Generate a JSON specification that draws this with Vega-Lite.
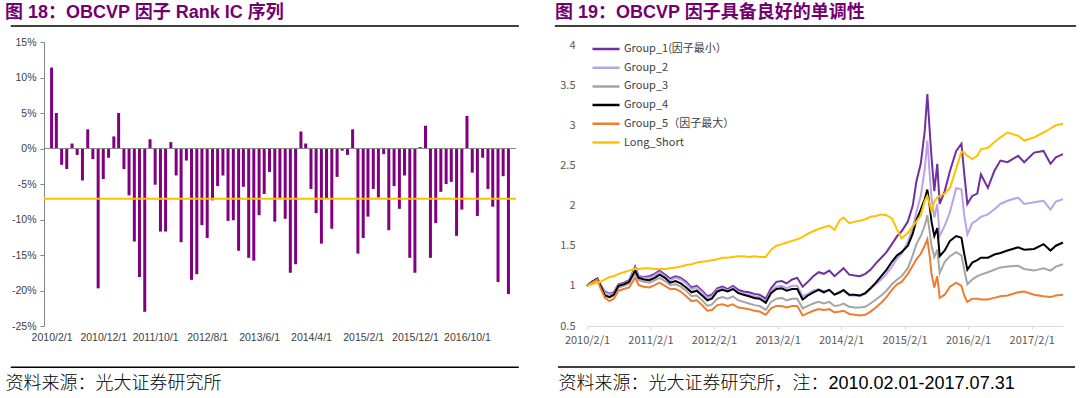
{
  "$schema": "https://vega.github.io/schema/vega-lite/v6.json",
  "background": "white",
  "padding": {"left": 5, "top": 4, "right": 0, "bottom": 0},
  "spacing": 34,
  "config": {"view": {"stroke": null}, "font": "Liberation Sans", "axis": {"labelOverlap": false}, "axisY": {"labelOverlap": false}},
  "resolve": {"scale": {"x": "independent", "y": "independent", "color": "independent"}, "legend": {"color": "independent"}},
  "hconcat": [
    {
      "width": 472,
      "height": 284,
      "title": {"text": "图 18：OBCVP 因子 Rank IC 序列", "anchor": "start", "frame": "group", "dx": -39, "offset": 3, "font": "Liberation Sans, Noto Sans CJK SC", "fontSize": 18, "fontWeight": "bold", "color": "#74006F"},
      "data": {"values": [
        {"month": "2010/02/01", "ic": 11.4}, {"month": "2010/03/01", "ic": 5.0}, {"month": "2010/04/01", "ic": -2.3}, {"month": "2010/05/01", "ic": -2.9}, {"month": "2010/06/01", "ic": 0.7}, {"month": "2010/07/01", "ic": -0.9}, {"month": "2010/08/01", "ic": -4.5}, {"month": "2010/09/01", "ic": 2.7}, {"month": "2010/10/01", "ic": -1.5}, {"month": "2010/11/01", "ic": -19.7}, {"month": "2010/12/01", "ic": -4.3},
        {"month": "2011/01/01", "ic": -1.3}, {"month": "2011/02/01", "ic": 1.7}, {"month": "2011/03/01", "ic": 5.0}, {"month": "2011/04/01", "ic": -2.9}, {"month": "2011/05/01", "ic": -6.6}, {"month": "2011/06/01", "ic": -13.1}, {"month": "2011/07/01", "ic": -18.1}, {"month": "2011/08/01", "ic": -23.0}, {"month": "2011/09/01", "ic": 1.3}, {"month": "2011/10/01", "ic": -5.1}, {"month": "2011/11/01", "ic": -11.7}, {"month": "2011/12/01", "ic": -11.7},
        {"month": "2012/01/01", "ic": 0.9}, {"month": "2012/02/01", "ic": -3.8}, {"month": "2012/03/01", "ic": -13.2}, {"month": "2012/04/01", "ic": -1.7}, {"month": "2012/05/01", "ic": -18.5}, {"month": "2012/06/01", "ic": -17.7}, {"month": "2012/07/01", "ic": -10.8}, {"month": "2012/08/01", "ic": -12.6}, {"month": "2012/09/01", "ic": -7.3}, {"month": "2012/10/01", "ic": -5.3}, {"month": "2012/11/01", "ic": -3.8}, {"month": "2012/12/01", "ic": -10.2},
        {"month": "2013/01/01", "ic": -10.1}, {"month": "2013/02/01", "ic": -14.4}, {"month": "2013/03/01", "ic": -5.4}, {"month": "2013/04/01", "ic": -15.4}, {"month": "2013/05/01", "ic": -15.8}, {"month": "2013/06/01", "ic": -9.4}, {"month": "2013/07/01", "ic": -6.4}, {"month": "2013/08/01", "ic": -3.3}, {"month": "2013/09/01", "ic": -10.3}, {"month": "2013/10/01", "ic": -7.0}, {"month": "2013/11/01", "ic": -9.9}, {"month": "2013/12/01", "ic": -17.5},
        {"month": "2014/01/01", "ic": -16.3}, {"month": "2014/02/01", "ic": 2.4}, {"month": "2014/03/01", "ic": 0.7}, {"month": "2014/04/01", "ic": -5.7}, {"month": "2014/05/01", "ic": -9.1}, {"month": "2014/06/01", "ic": -13.4}, {"month": "2014/07/01", "ic": -7.0}, {"month": "2014/08/01", "ic": -11.3}, {"month": "2014/09/01", "ic": -4.0}, {"month": "2014/10/01", "ic": -0.3}, {"month": "2014/11/01", "ic": -0.9}, {"month": "2014/12/01", "ic": 2.7},
        {"month": "2015/01/01", "ic": -14.8}, {"month": "2015/02/01", "ic": -12.6}, {"month": "2015/03/01", "ic": -9.6}, {"month": "2015/04/01", "ic": -5.7}, {"month": "2015/05/01", "ic": -6.9}, {"month": "2015/06/01", "ic": -0.8}, {"month": "2015/07/01", "ic": -11.5}, {"month": "2015/08/01", "ic": -5.3}, {"month": "2015/09/01", "ic": -8.5}, {"month": "2015/10/01", "ic": -3.8}, {"month": "2015/11/01", "ic": -15.4}, {"month": "2015/12/01", "ic": -17.5},
        {"month": "2016/01/01", "ic": 0.2}, {"month": "2016/02/01", "ic": 3.2}, {"month": "2016/03/01", "ic": -15.4}, {"month": "2016/04/01", "ic": -10.5}, {"month": "2016/05/01", "ic": -6.1}, {"month": "2016/06/01", "ic": -5.0}, {"month": "2016/07/01", "ic": -4.7}, {"month": "2016/08/01", "ic": -12.3}, {"month": "2016/09/01", "ic": -8.6}, {"month": "2016/10/01", "ic": 4.6}, {"month": "2016/11/01", "ic": -3.4}, {"month": "2016/12/01", "ic": -9.5},
        {"month": "2017/01/01", "ic": -1.3}, {"month": "2017/02/01", "ic": -5.7}, {"month": "2017/03/01", "ic": -8.2}, {"month": "2017/04/01", "ic": -18.8}, {"month": "2017/05/01", "ic": -3.9}, {"month": "2017/06/01", "ic": -20.5}
      ]},
      "layer": [
        {
          "mark": {"type": "bar", "size": 3, "color": "#800080"},
          "encoding": {
            "x": {"field": "month", "type": "temporal",
              "scale": {"domain": [{"year": 2010, "month": 1, "date": 17}, {"year": 2017, "month": 6, "date": 16}]},
              "axis": {
                "values": [{"year": 2010, "month": 2, "date": 1}, {"year": 2010, "month": 12, "date": 1}, {"year": 2011, "month": 10, "date": 1}, {"year": 2012, "month": 8, "date": 1}, {"year": 2013, "month": 6, "date": 1}, {"year": 2014, "month": 4, "date": 1}, {"year": 2015, "month": 2, "date": 1}, {"year": 2015, "month": 12, "date": 1}, {"year": 2016, "month": 10, "date": 1}],
                "format": "%Y/%-m/%-d", "domain": false, "ticks": false, "grid": false,
                "labelFont": "Liberation Sans", "labelFontSize": 10.5, "labelColor": "#404040", "labelPadding": 6, "labelOverlap": false, "labelFlush": false,
                "title": "资料来源：光大证券研究所", "titleFont": "Noto Sans CJK SC", "titleFontSize": 18, "titleFontWeight": 300, "titleColor": "#000000",
                "titleAnchor": "start", "titleAlign": "left", "titleBaseline": "middle", "titleX": -39, "titleY": 57
              }},
            "y": {"field": "ic", "type": "quantitative",
              "scale": {"domain": [-25, 15], "nice": false},
              "axis": {"tickCount": 8, "labelExpr": "datum.value + '%'", "labelOverlap": false, "domain": true, "domainColor": "#868686", "ticks": true, "tickColor": "#868686", "tickSize": 4, "grid": false, "labelFont": "Liberation Sans", "labelFontSize": 10.5, "labelColor": "#404040", "labelPadding": 4, "title": null}}
          }
        },
        {"data": {"values": [{"line": "zero"}]}, "mark": {"type": "rule", "color": "#868686", "strokeWidth": 1},
          "encoding": {"y": {"datum": 0, "type": "quantitative",
            "axis": {"tickCount": 8, "labelExpr": "datum.value + '%'", "labelOverlap": false, "domain": true, "domainColor": "#868686", "ticks": true, "tickColor": "#868686", "tickSize": 4, "grid": false, "labelFont": "Liberation Sans", "labelFontSize": 10.5, "labelColor": "#404040", "labelPadding": 4, "title": null}}}},
        {"mark": {"type": "rule", "color": "#FFC000", "strokeWidth": 2},
          "encoding": {"y": {"aggregate": "mean", "field": "ic", "type": "quantitative",
            "axis": {"tickCount": 8, "labelExpr": "datum.value + '%'", "labelOverlap": false, "domain": true, "domainColor": "#868686", "ticks": true, "tickColor": "#868686", "tickSize": 4, "grid": false, "labelFont": "Liberation Sans", "labelFontSize": 10.5, "labelColor": "#404040", "labelPadding": 4, "title": null}}}},
        {"data": {"values": [{"line": "left-top"}]}, "mark": {"type": "rule", "color": "#000000", "strokeWidth": 1.5},
          "encoding": {"x": {"datum": {"year": 2009, "month": 6, "date": 7}, "type": "temporal"}, "x2": {"datum": {"year": 2017, "month": 8, "date": 1}},
            "y": {"datum": 17.25, "type": "quantitative",
              "axis": {"tickCount": 8, "labelExpr": "datum.value + '%'", "labelOverlap": false, "domain": true, "domainColor": "#868686", "ticks": true, "tickColor": "#868686", "tickSize": 4, "grid": false, "labelFont": "Liberation Sans", "labelFontSize": 10.5, "labelColor": "#404040", "labelPadding": 4, "title": null}}}},
        {"data": {"values": [{"line": "left-bottom"}]}, "mark": {"type": "rule", "color": "#000000", "strokeWidth": 1.5},
          "encoding": {"x": {"datum": {"year": 2009, "month": 6, "date": 7}, "type": "temporal"}, "x2": {"datum": {"year": 2017, "month": 8, "date": 1}},
            "y": {"datum": -30.8, "type": "quantitative",
              "axis": {"tickCount": 8, "labelExpr": "datum.value + '%'", "labelOverlap": false, "domain": true, "domainColor": "#868686", "ticks": true, "tickColor": "#868686", "tickSize": 4, "grid": false, "labelFont": "Liberation Sans", "labelFontSize": 10.5, "labelColor": "#404040", "labelPadding": 4, "title": null}}}}
      ]
    },
    {
      "width": 476,
      "height": 284,
      "title": {"text": "图 19：OBCVP 因子具备良好的单调性", "anchor": "start", "frame": "group", "dx": -32, "offset": 3, "font": "Liberation Sans, Noto Sans CJK SC", "fontSize": 18, "fontWeight": "bold", "color": "#74006F"},
      "data": {"values": [
        {"date": "2010/02/01", "Group_1": 1.00, "Group_2": 1.00, "Group_3": 1.00, "Group_4": 1.00, "Group_5": 1.00, "Long_Short": 1.00},
        {"date": "2010/03/01", "Group_1": 1.04, "Group_2": 1.04, "Group_3": 1.04, "Group_4": 1.05, "Group_5": 1.04, "Long_Short": 1.02},
        {"date": "2010/04/01", "Group_1": 1.09, "Group_2": 1.08, "Group_3": 1.08, "Group_4": 1.09, "Group_5": 1.08, "Long_Short": 1.04},
        {"date": "2010/04/20", "Group_1": 1.01, "Group_2": 1.00, "Group_3": 0.99, "Group_4": 1.00, "Group_5": 0.97, "Long_Short": 1.05},
        {"date": "2010/05/15", "Group_1": 0.93, "Group_2": 0.92, "Group_3": 0.89, "Group_4": 0.88, "Group_5": 0.85, "Long_Short": 1.08},
        {"date": "2010/06/10", "Group_1": 0.90, "Group_2": 0.89, "Group_3": 0.86, "Group_4": 0.86, "Group_5": 0.81, "Long_Short": 1.11},
        {"date": "2010/07/05", "Group_1": 0.92, "Group_2": 0.91, "Group_3": 0.88, "Group_4": 0.89, "Group_5": 0.84, "Long_Short": 1.12},
        {"date": "2010/08/01", "Group_1": 1.02, "Group_2": 1.01, "Group_3": 0.98, "Group_4": 1.00, "Group_5": 0.94, "Long_Short": 1.15},
        {"date": "2010/09/01", "Group_1": 1.04, "Group_2": 1.03, "Group_3": 1.00, "Group_4": 1.02, "Group_5": 0.96, "Long_Short": 1.17},
        {"date": "2010/10/01", "Group_1": 1.07, "Group_2": 1.06, "Group_3": 1.03, "Group_4": 1.05, "Group_5": 0.98, "Long_Short": 1.19},
        {"date": "2010/11/05", "Group_1": 1.24, "Group_2": 1.22, "Group_3": 1.16, "Group_4": 1.19, "Group_5": 1.10, "Long_Short": 1.21},
        {"date": "2010/11/25", "Group_1": 1.12, "Group_2": 1.11, "Group_3": 1.07, "Group_4": 1.10, "Group_5": 1.01, "Long_Short": 1.21},
        {"date": "2010/12/25", "Group_1": 1.11, "Group_2": 1.10, "Group_3": 1.05, "Group_4": 1.08, "Group_5": 0.99, "Long_Short": 1.22},
        {"date": "2011/01/25", "Group_1": 1.12, "Group_2": 1.10, "Group_3": 1.04, "Group_4": 1.07, "Group_5": 0.98, "Long_Short": 1.22},
        {"date": "2011/02/25", "Group_1": 1.15, "Group_2": 1.13, "Group_3": 1.07, "Group_4": 1.10, "Group_5": 1.01, "Long_Short": 1.21},
        {"date": "2011/03/25", "Group_1": 1.19, "Group_2": 1.17, "Group_3": 1.10, "Group_4": 1.14, "Group_5": 1.04, "Long_Short": 1.21},
        {"date": "2011/04/25", "Group_1": 1.14, "Group_2": 1.12, "Group_3": 1.06, "Group_4": 1.10, "Group_5": 1.00, "Long_Short": 1.21},
        {"date": "2011/05/25", "Group_1": 1.09, "Group_2": 1.07, "Group_3": 1.01, "Group_4": 1.04, "Group_5": 0.96, "Long_Short": 1.22},
        {"date": "2011/06/25", "Group_1": 1.12, "Group_2": 1.10, "Group_3": 1.02, "Group_4": 1.06, "Group_5": 0.96, "Long_Short": 1.23},
        {"date": "2011/07/25", "Group_1": 1.10, "Group_2": 1.08, "Group_3": 0.99, "Group_4": 1.03, "Group_5": 0.93, "Long_Short": 1.24},
        {"date": "2011/08/25", "Group_1": 1.05, "Group_2": 1.03, "Group_3": 0.94, "Group_4": 0.98, "Group_5": 0.87, "Long_Short": 1.26},
        {"date": "2011/09/25", "Group_1": 0.98, "Group_2": 0.96, "Group_3": 0.87, "Group_4": 0.92, "Group_5": 0.81, "Long_Short": 1.27},
        {"date": "2011/10/25", "Group_1": 1.00, "Group_2": 0.98, "Group_3": 0.88, "Group_4": 0.94, "Group_5": 0.82, "Long_Short": 1.29},
        {"date": "2011/11/25", "Group_1": 0.94, "Group_2": 0.92, "Group_3": 0.82, "Group_4": 0.88, "Group_5": 0.76, "Long_Short": 1.30},
        {"date": "2011/12/25", "Group_1": 0.87, "Group_2": 0.85, "Group_3": 0.75, "Group_4": 0.82, "Group_5": 0.69, "Long_Short": 1.31},
        {"date": "2012/01/20", "Group_1": 0.89, "Group_2": 0.87, "Group_3": 0.77, "Group_4": 0.84, "Group_5": 0.70, "Long_Short": 1.32},
        {"date": "2012/02/20", "Group_1": 0.97, "Group_2": 0.95, "Group_3": 0.84, "Group_4": 0.93, "Group_5": 0.76, "Long_Short": 1.33},
        {"date": "2012/03/20", "Group_1": 0.99, "Group_2": 0.97, "Group_3": 0.86, "Group_4": 0.95, "Group_5": 0.77, "Long_Short": 1.35},
        {"date": "2012/04/20", "Group_1": 0.96, "Group_2": 0.94, "Group_3": 0.84, "Group_4": 0.93, "Group_5": 0.75, "Long_Short": 1.35},
        {"date": "2012/05/20", "Group_1": 1.00, "Group_2": 0.98, "Group_3": 0.87, "Group_4": 0.96, "Group_5": 0.77, "Long_Short": 1.36},
        {"date": "2012/06/20", "Group_1": 0.95, "Group_2": 0.92, "Group_3": 0.82, "Group_4": 0.91, "Group_5": 0.73, "Long_Short": 1.37},
        {"date": "2012/07/20", "Group_1": 0.93, "Group_2": 0.90, "Group_3": 0.80, "Group_4": 0.89, "Group_5": 0.72, "Long_Short": 1.37},
        {"date": "2012/08/20", "Group_1": 0.92, "Group_2": 0.89, "Group_3": 0.78, "Group_4": 0.87, "Group_5": 0.71, "Long_Short": 1.36},
        {"date": "2012/09/20", "Group_1": 0.90, "Group_2": 0.87, "Group_3": 0.76, "Group_4": 0.85, "Group_5": 0.69, "Long_Short": 1.37},
        {"date": "2012/10/20", "Group_1": 0.89, "Group_2": 0.86, "Group_3": 0.75, "Group_4": 0.84, "Group_5": 0.68, "Long_Short": 1.36},
        {"date": "2012/11/25", "Group_1": 0.84, "Group_2": 0.81, "Group_3": 0.70, "Group_4": 0.79, "Group_5": 0.64, "Long_Short": 1.36},
        {"date": "2012/12/25", "Group_1": 0.97, "Group_2": 0.93, "Group_3": 0.80, "Group_4": 0.91, "Group_5": 0.72, "Long_Short": 1.45},
        {"date": "2013/01/25", "Group_1": 1.05, "Group_2": 0.99, "Group_3": 0.84, "Group_4": 0.96, "Group_5": 0.75, "Long_Short": 1.50},
        {"date": "2013/02/25", "Group_1": 1.06, "Group_2": 1.00, "Group_3": 0.85, "Group_4": 0.97, "Group_5": 0.75, "Long_Short": 1.52},
        {"date": "2013/03/25", "Group_1": 1.03, "Group_2": 0.97, "Group_3": 0.82, "Group_4": 0.94, "Group_5": 0.73, "Long_Short": 1.54},
        {"date": "2013/04/25", "Group_1": 1.08, "Group_2": 1.00, "Group_3": 0.84, "Group_4": 0.96, "Group_5": 0.75, "Long_Short": 1.56},
        {"date": "2013/05/25", "Group_1": 1.10, "Group_2": 1.00, "Group_3": 0.84, "Group_4": 0.96, "Group_5": 0.75, "Long_Short": 1.58},
        {"date": "2013/06/25", "Group_1": 0.99, "Group_2": 0.87, "Group_3": 0.72, "Group_4": 0.83, "Group_5": 0.63, "Long_Short": 1.61},
        {"date": "2013/07/25", "Group_1": 1.05, "Group_2": 0.90, "Group_3": 0.75, "Group_4": 0.88, "Group_5": 0.66, "Long_Short": 1.65},
        {"date": "2013/08/25", "Group_1": 1.12, "Group_2": 0.94, "Group_3": 0.78, "Group_4": 0.92, "Group_5": 0.69, "Long_Short": 1.68},
        {"date": "2013/09/25", "Group_1": 1.17, "Group_2": 0.96, "Group_3": 0.80, "Group_4": 0.95, "Group_5": 0.71, "Long_Short": 1.71},
        {"date": "2013/10/25", "Group_1": 1.15, "Group_2": 0.93, "Group_3": 0.78, "Group_4": 0.92, "Group_5": 0.70, "Long_Short": 1.73},
        {"date": "2013/11/25", "Group_1": 1.19, "Group_2": 0.95, "Group_3": 0.80, "Group_4": 0.95, "Group_5": 0.71, "Long_Short": 1.75},
        {"date": "2013/12/25", "Group_1": 1.12, "Group_2": 0.89, "Group_3": 0.75, "Group_4": 0.89, "Group_5": 0.67, "Long_Short": 1.70},
        {"date": "2014/01/25", "Group_1": 1.18, "Group_2": 0.92, "Group_3": 0.76, "Group_4": 0.92, "Group_5": 0.68, "Long_Short": 1.82},
        {"date": "2014/02/15", "Group_1": 1.22, "Group_2": 0.94, "Group_3": 0.78, "Group_4": 0.95, "Group_5": 0.69, "Long_Short": 1.85},
        {"date": "2014/03/20", "Group_1": 1.14, "Group_2": 0.88, "Group_3": 0.74, "Group_4": 0.89, "Group_5": 0.65, "Long_Short": 1.78},
        {"date": "2014/04/20", "Group_1": 1.13, "Group_2": 0.88, "Group_3": 0.73, "Group_4": 0.89, "Group_5": 0.64, "Long_Short": 1.80},
        {"date": "2014/05/20", "Group_1": 1.12, "Group_2": 0.87, "Group_3": 0.73, "Group_4": 0.88, "Group_5": 0.63, "Long_Short": 1.81},
        {"date": "2014/06/20", "Group_1": 1.15, "Group_2": 0.90, "Group_3": 0.74, "Group_4": 0.91, "Group_5": 0.64, "Long_Short": 1.83},
        {"date": "2014/07/20", "Group_1": 1.20, "Group_2": 0.96, "Group_3": 0.78, "Group_4": 0.97, "Group_5": 0.68, "Long_Short": 1.86},
        {"date": "2014/08/20", "Group_1": 1.28, "Group_2": 1.02, "Group_3": 0.83, "Group_4": 1.04, "Group_5": 0.73, "Long_Short": 1.87},
        {"date": "2014/09/20", "Group_1": 1.35, "Group_2": 1.08, "Group_3": 0.88, "Group_4": 1.12, "Group_5": 0.79, "Long_Short": 1.89},
        {"date": "2014/10/20", "Group_1": 1.42, "Group_2": 1.15, "Group_3": 0.94, "Group_4": 1.20, "Group_5": 0.86, "Long_Short": 1.88},
        {"date": "2014/11/20", "Group_1": 1.52, "Group_2": 1.24, "Group_3": 1.02, "Group_4": 1.30, "Group_5": 0.95, "Long_Short": 1.84},
        {"date": "2014/12/20", "Group_1": 1.62, "Group_2": 1.34, "Group_3": 1.08, "Group_4": 1.38, "Group_5": 1.02, "Long_Short": 1.70},
        {"date": "2015/01/15", "Group_1": 1.68, "Group_2": 1.40, "Group_3": 1.12, "Group_4": 1.42, "Group_5": 1.05, "Long_Short": 1.59},
        {"date": "2015/02/20", "Group_1": 1.80, "Group_2": 1.55, "Group_3": 1.22, "Group_4": 1.50, "Group_5": 1.15, "Long_Short": 1.66},
        {"date": "2015/03/20", "Group_1": 2.00, "Group_2": 1.72, "Group_3": 1.38, "Group_4": 1.65, "Group_5": 1.25, "Long_Short": 1.74},
        {"date": "2015/04/10", "Group_1": 2.30, "Group_2": 1.92, "Group_3": 1.52, "Group_4": 1.82, "Group_5": 1.33, "Long_Short": 1.80},
        {"date": "2015/05/05", "Group_1": 2.52, "Group_2": 2.12, "Group_3": 1.62, "Group_4": 1.95, "Group_5": 1.40, "Long_Short": 1.88},
        {"date": "2015/05/28", "Group_1": 2.93, "Group_2": 2.45, "Group_3": 1.75, "Group_4": 2.08, "Group_5": 1.50, "Long_Short": 2.06},
        {"date": "2015/06/12", "Group_1": 3.39, "Group_2": 2.81, "Group_3": 1.88, "Group_4": 2.20, "Group_5": 1.58, "Long_Short": 2.12},
        {"date": "2015/06/25", "Group_1": 2.95, "Group_2": 2.40, "Group_3": 1.68, "Group_4": 2.00, "Group_5": 1.38, "Long_Short": 2.02},
        {"date": "2015/07/06", "Group_1": 2.60, "Group_2": 2.10, "Group_3": 1.50, "Group_4": 1.80, "Group_5": 1.15, "Long_Short": 1.93},
        {"date": "2015/07/22", "Group_1": 2.18, "Group_2": 1.85, "Group_3": 1.36, "Group_4": 1.62, "Group_5": 0.98, "Long_Short": 2.05},
        {"date": "2015/08/08", "Group_1": 2.52, "Group_2": 2.02, "Group_3": 1.45, "Group_4": 1.72, "Group_5": 1.12, "Long_Short": 2.10},
        {"date": "2015/08/22", "Group_1": 2.02, "Group_2": 1.62, "Group_3": 1.16, "Group_4": 1.37, "Group_5": 0.85, "Long_Short": 2.12},
        {"date": "2015/09/20", "Group_1": 2.18, "Group_2": 1.75, "Group_3": 1.30, "Group_4": 1.44, "Group_5": 0.89, "Long_Short": 2.15},
        {"date": "2015/10/20", "Group_1": 2.43, "Group_2": 1.92, "Group_3": 1.37, "Group_4": 1.56, "Group_5": 0.99, "Long_Short": 2.22},
        {"date": "2015/11/25", "Group_1": 2.68, "Group_2": 2.22, "Group_3": 1.42, "Group_4": 1.62, "Group_5": 1.04, "Long_Short": 2.46},
        {"date": "2015/12/25", "Group_1": 2.77, "Group_2": 2.20, "Group_3": 1.38, "Group_4": 1.60, "Group_5": 1.00, "Long_Short": 2.67},
        {"date": "2016/01/10", "Group_1": 2.40, "Group_2": 1.88, "Group_3": 1.20, "Group_4": 1.40, "Group_5": 0.88, "Long_Short": 2.66},
        {"date": "2016/01/28", "Group_1": 2.02, "Group_2": 1.64, "Group_3": 1.02, "Group_4": 1.20, "Group_5": 0.80, "Long_Short": 2.62},
        {"date": "2016/02/25", "Group_1": 2.12, "Group_2": 1.78, "Group_3": 1.08, "Group_4": 1.29, "Group_5": 0.84, "Long_Short": 2.58},
        {"date": "2016/03/25", "Group_1": 2.15, "Group_2": 1.82, "Group_3": 1.12, "Group_4": 1.32, "Group_5": 0.84, "Long_Short": 2.62},
        {"date": "2016/04/15", "Group_1": 2.39, "Group_2": 1.86, "Group_3": 1.14, "Group_4": 1.35, "Group_5": 0.83, "Long_Short": 2.70},
        {"date": "2016/05/25", "Group_1": 2.22, "Group_2": 1.89, "Group_3": 1.17, "Group_4": 1.35, "Group_5": 0.83, "Long_Short": 2.72},
        {"date": "2016/07/01", "Group_1": 2.43, "Group_2": 1.95, "Group_3": 1.20, "Group_4": 1.39, "Group_5": 0.85, "Long_Short": 2.79},
        {"date": "2016/08/05", "Group_1": 2.56, "Group_2": 2.02, "Group_3": 1.23, "Group_4": 1.41, "Group_5": 0.87, "Long_Short": 2.85},
        {"date": "2016/09/15", "Group_1": 2.54, "Group_2": 2.06, "Group_3": 1.24, "Group_4": 1.44, "Group_5": 0.88, "Long_Short": 2.91},
        {"date": "2016/11/15", "Group_1": 2.62, "Group_2": 2.10, "Group_3": 1.25, "Group_4": 1.48, "Group_5": 0.92, "Long_Short": 2.87},
        {"date": "2016/12/20", "Group_1": 2.54, "Group_2": 2.02, "Group_3": 1.21, "Group_4": 1.45, "Group_5": 0.93, "Long_Short": 2.81},
        {"date": "2017/02/15", "Group_1": 2.66, "Group_2": 2.04, "Group_3": 1.19, "Group_4": 1.46, "Group_5": 0.89, "Long_Short": 2.85},
        {"date": "2017/04/10", "Group_1": 2.68, "Group_2": 2.06, "Group_3": 1.22, "Group_4": 1.52, "Group_5": 0.87, "Long_Short": 2.91},
        {"date": "2017/05/20", "Group_1": 2.52, "Group_2": 1.95, "Group_3": 1.19, "Group_4": 1.44, "Group_5": 0.86, "Long_Short": 2.96},
        {"date": "2017/06/20", "Group_1": 2.60, "Group_2": 2.05, "Group_3": 1.24, "Group_4": 1.50, "Group_5": 0.88, "Long_Short": 3.00},
        {"date": "2017/07/31", "Group_1": 2.64, "Group_2": 2.08, "Group_3": 1.27, "Group_4": 1.54, "Group_5": 0.89, "Long_Short": 3.02}
      ]},
      "layer": [
        {
          "transform": [{"fold": ["Group_1", "Group_2", "Group_3", "Group_4", "Group_5", "Long_Short"], "as": ["series", "value"]}],
          "mark": {"type": "line", "strokeWidth": 2},
          "encoding": {
            "x": {"field": "date", "type": "temporal",
              "scale": {"domain": [{"year": 2010, "month": 2, "date": 1}, {"year": 2017, "month": 7, "date": 31}]},
              "axis": {
                "values": [{"year": 2010, "month": 2, "date": 1}, {"year": 2011, "month": 2, "date": 1}, {"year": 2012, "month": 2, "date": 1}, {"year": 2013, "month": 2, "date": 1}, {"year": 2014, "month": 2, "date": 1}, {"year": 2015, "month": 2, "date": 1}, {"year": 2016, "month": 2, "date": 1}, {"year": 2017, "month": 2, "date": 1}],
                "format": "%Y/%-m/%-d", "domain": true, "domainColor": "#D9D9D9", "ticks": true, "tickColor": "#D9D9D9", "tickSize": 3, "grid": false,
                "labelFont": "Noto Sans CJK SC", "labelFontSize": 11, "labelColor": "#595959", "labelPadding": 5, "labelOverlap": false, "labelFlush": false,
                "title": "资料来源：光大证券研究所，注：2010.02.01-2017.07.31", "titleFont": "Liberation Sans, Noto Sans CJK SC", "titleFontSize": 18, "titleFontWeight": 300, "titleColor": "#000000",
                "titleAnchor": "start", "titleAlign": "left", "titleBaseline": "middle", "titleX": -29, "titleY": 57
              }},
            "y": {"field": "value", "type": "quantitative",
              "scale": {"domain": [0.5, 4.0374], "nice": false, "zero": false},
              "axis": {"values": [0.5, 1, 1.5, 2, 2.5, 3, 3.5, 4], "labelExpr": "datum.value + ''", "labelOverlap": false, "domain": false, "ticks": false, "grid": false, "labelFont": "Noto Sans CJK SC", "labelFontSize": 11, "labelColor": "#595959", "labelPadding": 12, "title": null}},
            "color": {"field": "series", "type": "nominal",
              "scale": {"domain": ["Group_1", "Group_2", "Group_3", "Group_4", "Group_5", "Long_Short"], "range": ["#7030A0", "#B9A3E6", "#A5A5A5", "#000000", "#ED7D31", "#FFC000"]},
              "legend": {"orient": "none", "legendX": 4, "legendY": 1, "title": null, "symbolType": "stroke", "symbolSize": 729, "symbolStrokeWidth": 2.5, "clipHeight": 12, "rowPadding": 6.7, "labelOffset": 3,
                "labelFont": "Noto Sans CJK SC", "labelFontSize": 11, "labelColor": "#404040",
                "labelExpr": "datum.label == 'Group_1' ? 'Group_1(因子最小）' : datum.label == 'Group_5' ? 'Group_5（因子最大）' : datum.label"}}
          }
        },
        {"data": {"values": [{"line": "right-top"}]}, "mark": {"type": "rule", "color": "#000000", "strokeWidth": 1.5},
          "encoding": {"x": {"datum": {"year": 2009, "month": 7, "date": 31}, "type": "temporal"}, "x2": {"datum": {"year": 2017, "month": 10, "date": 14}}, "y": {"datum": 4.237, "type": "quantitative"}}},
        {"data": {"values": [{"line": "right-bottom"}]}, "mark": {"type": "rule", "color": "#000000", "strokeWidth": 1.5},
          "encoding": {"x": {"datum": {"year": 2009, "month": 8, "date": 18}, "type": "temporal"}, "x2": {"datum": {"year": 2017, "month": 10, "date": 8}}, "y": {"datum": -0.011, "type": "quantitative"}}}
      ]
    }
  ]
}
